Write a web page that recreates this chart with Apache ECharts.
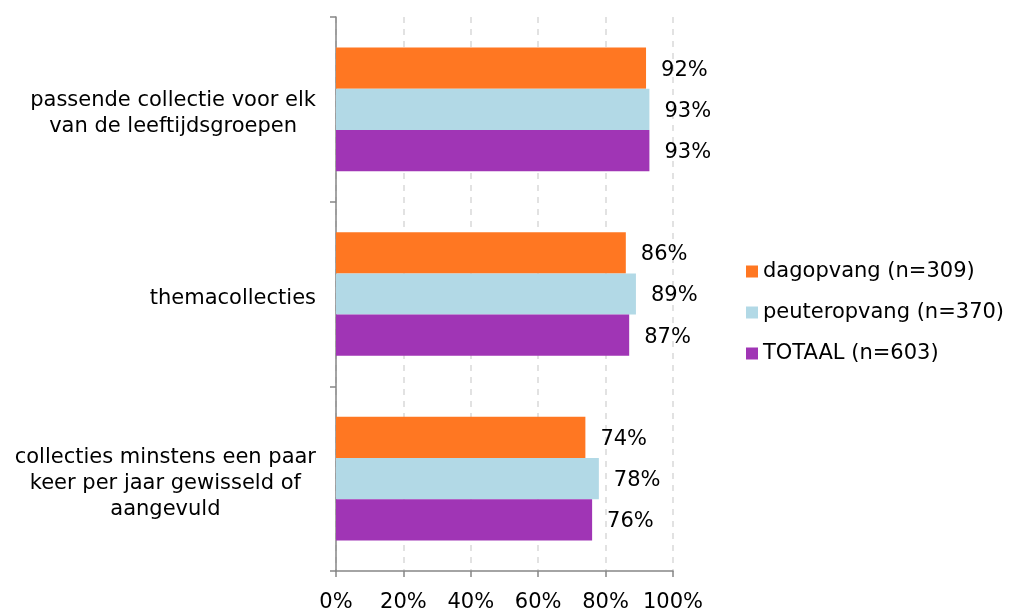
<!DOCTYPE html>
<html>
<head>
<meta charset="utf-8">
<script src="https://cdn.jsdelivr.net/npm/echarts@6/dist/echarts.min.js"></script>
<style>html,body{margin:0;padding:0;background:#fff}#c{width:1011px;height:613px}</style>
</head>
<body>
<div id="c"></div>
<script>
var categories = [
  ["passende collectie voor elk", "van de leeftijdsgroepen"],
  ["themacollecties"],
  ["collecties minstens een paar", "keer per jaar gewisseld of", "aangevuld"]
];
var seriesNames = ["dagopvang (n=309)", "peuteropvang (n=370)", "TOTAAL (n=603)"];
var dagopvang = [92, 86, 74];
var peuteropvang = [93, 89, 78];
var totaal = [93, 87, 76];
var xTicks = [0, 20, 40, 60, 80, 100];
var colors = ["#FF7722", "#B2D9E6", "#A035B5"];

var chart = echarts.init(document.getElementById('c'), null, {renderer: 'canvas'});
var font = "DejaVu Sans";
function mkSeries(name, data, color) {
  return {
    name: name, type: 'bar', data: data,
    barGap: '0%', barCategoryGap: '33%',
    itemStyle: {color: color},
    label: {show: true, position: 'right', distance: 15, offset: [0, 2], formatter: '{c}%',
      fontFamily: font, fontSize: 21, color: '#000'}
  };
}
chart.setOption({
  animation: false,
  textStyle: {fontFamily: font},
  grid: {left: 336, right: 338, top: 17, bottom: 39, containLabel: false},
  legend: {
    orient: 'vertical', left: 741, top: 256, itemWidth: 12, itemHeight: 12,
    itemGap: 20, icon: 'rect',
    textStyle: {fontFamily: font, fontSize: 21, color: '#000', padding: [0,0,0,0]},
    data: seriesNames
  },
  xAxis: {
    type: 'value', min: xTicks[0], max: xTicks[xTicks.length-1], interval: 20,
    axisLine: {show: true, lineStyle: {color: '#868686', width: 1.5}},
    axisTick: {show: true, length: 6, lineStyle: {color: '#868686', width: 1.5}},
    axisLabel: {formatter: '{value}%', fontFamily: font, fontSize: 21, color: '#000', margin: 21},
    splitLine: {show: true, lineStyle: {color: '#D9D9D9', width: 1.5, type: [6, 6]}}
  },
  yAxis: {
    type: 'category', inverse: true,
    data: categories.map(function(c){ return c.join('\n'); }),
    axisLine: {show: true, lineStyle: {color: '#868686', width: 1.5}},
    axisTick: {show: true, length: 6, lineStyle: {color: '#868686', width: 1.5}},
    axisLabel: {
      margin: 20, align: 'right', fontFamily: font, fontSize: 21, color: '#000', lineHeight: 26,
      padding: [9, 0, 0, 0],
      formatter: function(v){ return v.split('\n').map(function(l){return '{a|'+l+'}';}).join('\n'); },
      rich: {a: {align: 'center', fontFamily: font, fontSize: 21, lineHeight: 26, color: '#000'}}
    }
  },
  series: [
    mkSeries(seriesNames[0], dagopvang, colors[0]),
    mkSeries(seriesNames[1], peuteropvang, colors[1]),
    mkSeries(seriesNames[2], totaal, colors[2])
  ]
});
</script>
</body>
</html>
